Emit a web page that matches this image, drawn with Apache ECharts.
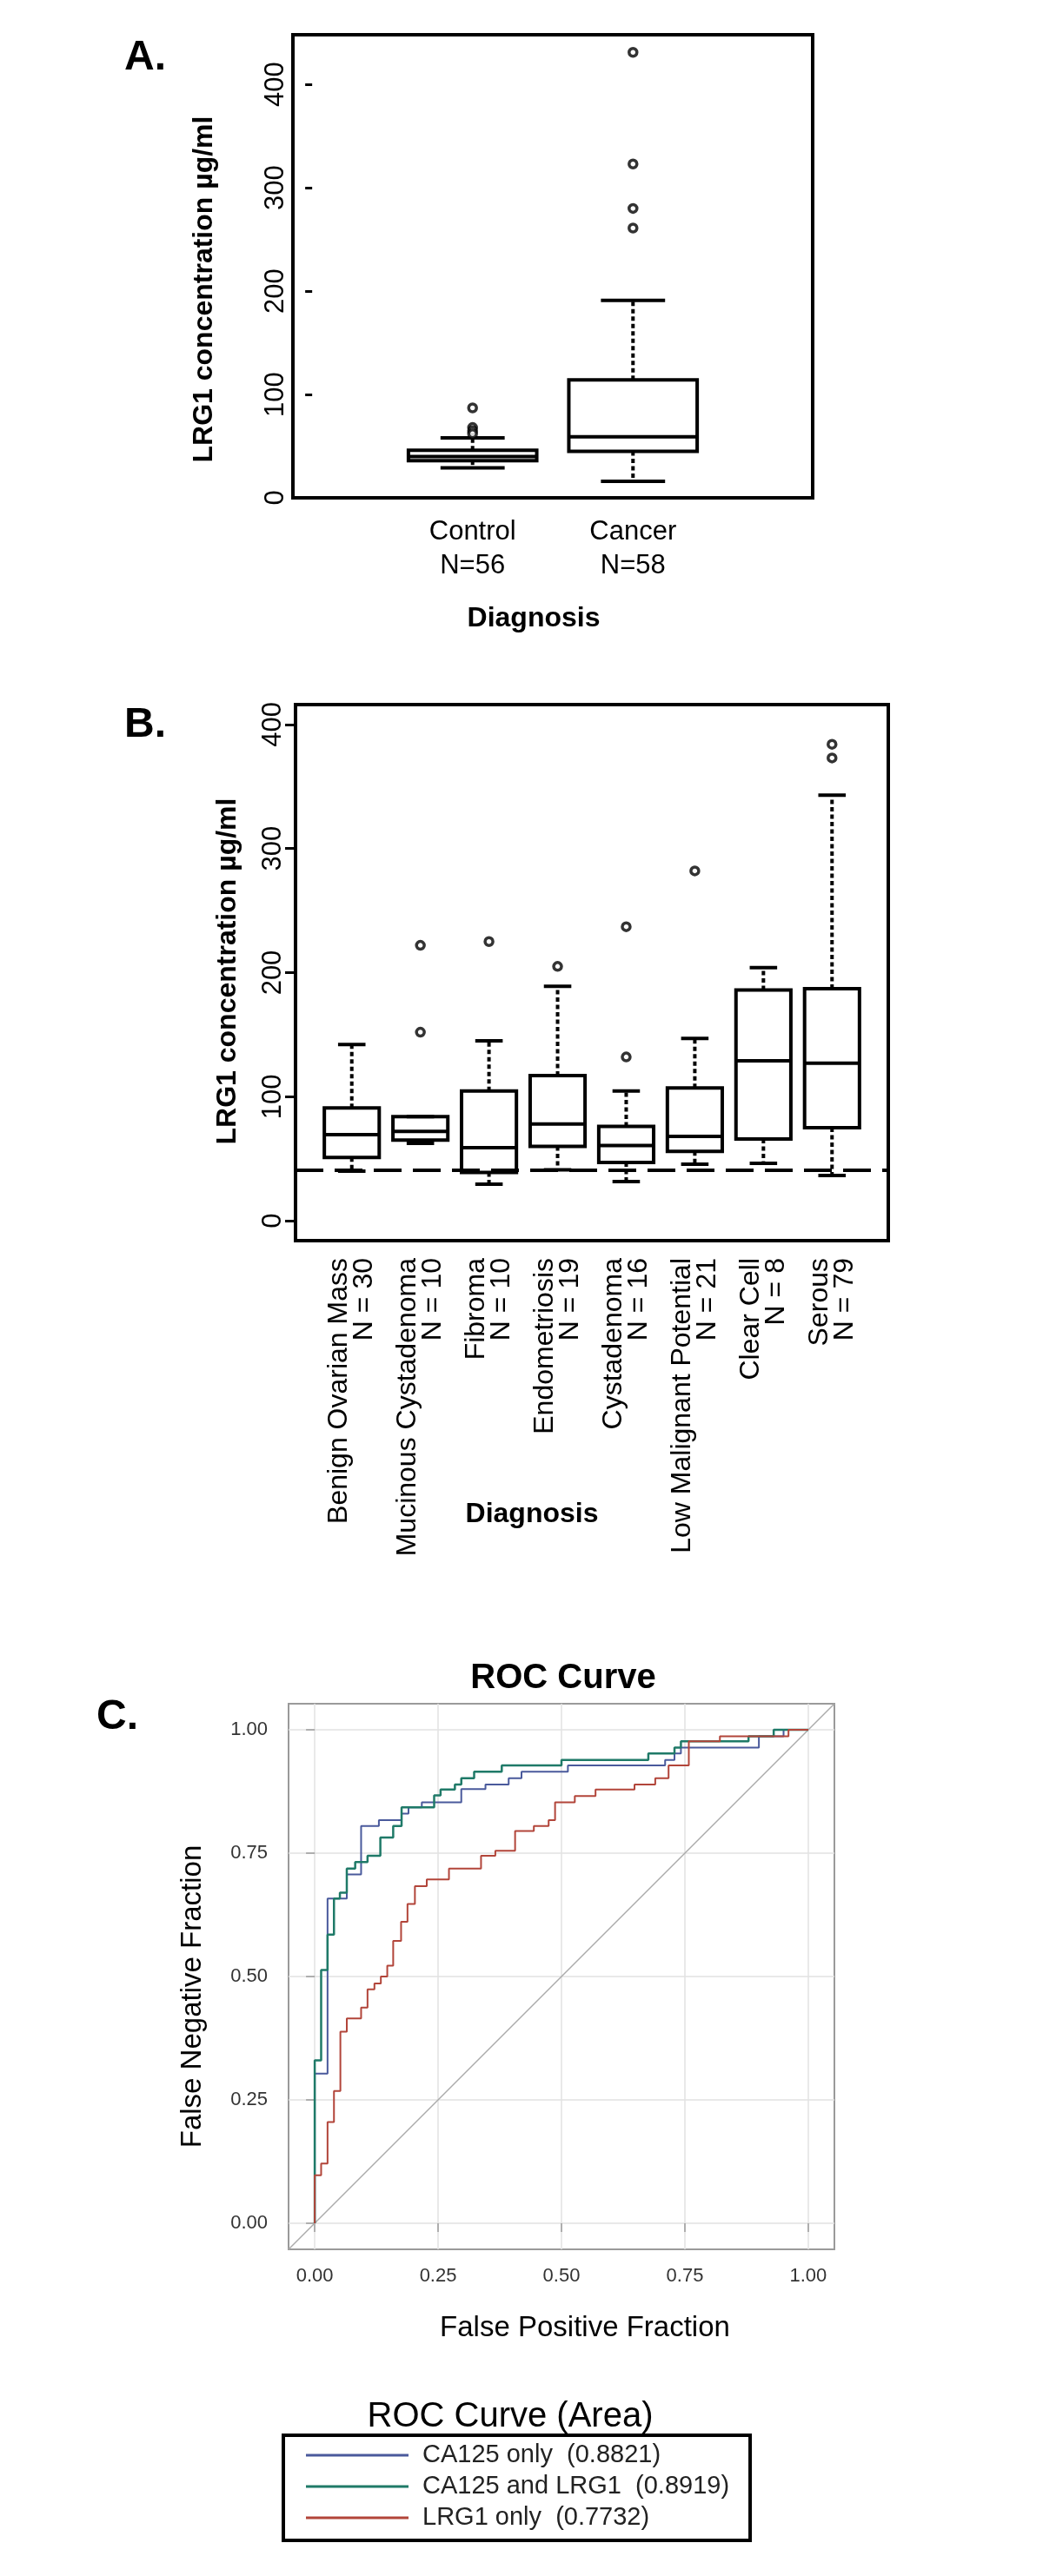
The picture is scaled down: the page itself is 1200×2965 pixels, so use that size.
<!DOCTYPE html>
<html>
<head>
<meta charset="utf-8">
<title>LRG1 concentration and ROC</title>
<script src="https://cdn.jsdelivr.net/npm/echarts@6/dist/echarts.min.js"></script>
<style>
  html, body { margin: 0; padding: 0; background: #fff; }
  #fig { width: 1200px; height: 2965px; }
</style>
</head>
<body>
<div id="fig"></div>
<script>
// ---- panel A: control vs cancer
var groupsA = ['Control', 'Cancer'];
var countsA = ['N=56', 'N=58'];
var lowA = [29, 16];
var q1A = [36, 45];
var medA = [40, 59];
var q3A = [46, 114];
var highA = [58, 191];
var outliersA = [[1, 87], [1, 68], [1, 65], [1, 62], [2, 261], [2, 280], [2, 323], [2, 431]];

// ---- panel B: by diagnosis
var groupsB = ['Benign Ovarian Mass', 'Mucinous Cystadenoma', 'Fibroma', 'Endometriosis',
  'Cystadenoma', 'Low Malignant Potential', 'Clear Cell', 'Serous'];
var countsB = [30, 10, 10, 19, 16, 21, 8, 79];
var lowB = [40, 62.5, 29.5, 41, 31.6, 45.6, 46.3, 36.5];
var q1B = [51, 65, 39, 60, 47, 56, 66, 75];
var medB = [69.5, 72, 59, 78, 60.6, 68, 129, 127];
var q3B = [91, 84, 104.6, 117, 76, 107, 186, 187];
var highB = [142, 84, 145, 189, 104.6, 147, 204, 343];
var outliersB = [[2, 222], [2, 152], [3, 225], [4, 205], [5, 237], [5, 132], [6, 282], [8, 384], [8, 373]];
var cutoffB = 41;

// ---- panel C: ROC curves, [false positive fraction, true fraction] at each step
var rocNames = ['CA125 only', 'CA125 and LRG1', 'LRG1 only'];
var rocAreas = [0.8821, 0.8919, 0.7732];
var rocColors = ['#4a5a9c', '#1f7a68', '#b2453a'];
var rocCA125 = [[0, 0], [0, 0.303], [0.026, 0.658], [0.065, 0.707], [0.094, 0.805], [0.130, 0.817],
  [0.176, 0.830], [0.190, 0.843], [0.217, 0.853], [0.297, 0.880], [0.346, 0.889], [0.393, 0.902],
  [0.419, 0.915], [0.513, 0.928], [0.710, 0.939], [0.729, 0.952], [0.742, 0.964], [0.900, 0.987],
  [0.950, 1.0], [1.0, 1.0]];
var rocBoth = [[0, 0], [0, 0.330], [0.013, 0.513], [0.026, 0.585], [0.039, 0.658], [0.051, 0.670],
  [0.065, 0.719], [0.082, 0.732], [0.107, 0.745], [0.133, 0.782], [0.159, 0.805], [0.176, 0.843],
  [0.242, 0.867], [0.255, 0.879], [0.284, 0.889], [0.297, 0.902], [0.323, 0.915], [0.379, 0.928],
  [0.500, 0.939], [0.676, 0.952], [0.729, 0.964], [0.742, 0.977], [0.879, 0.987], [0.930, 1.0],
  [1.0, 1.0]];
var rocLRG1 = [[0, 0], [0, 0.097], [0.013, 0.121], [0.026, 0.205], [0.039, 0.268], [0.052, 0.388],
  [0.065, 0.415], [0.094, 0.437], [0.107, 0.474], [0.121, 0.486], [0.134, 0.500], [0.147, 0.522],
  [0.159, 0.572], [0.175, 0.611], [0.188, 0.647], [0.203, 0.683], [0.227, 0.697], [0.272, 0.719],
  [0.337, 0.745], [0.366, 0.755], [0.406, 0.795], [0.444, 0.805], [0.474, 0.817], [0.487, 0.853],
  [0.527, 0.866], [0.569, 0.879], [0.648, 0.889], [0.690, 0.902], [0.717, 0.928], [0.758, 0.977],
  [0.821, 0.987], [0.960, 1.0], [1.0, 1.0]];
var fracTicks = [0, 0.25, 0.5, 0.75, 1];

var FONT = 'Liberation Sans, Arial, sans-serif';

function boxRows(low, q1, med, q3, high) {
  return low.map(function (v, i) { return [i + 1, v, q1[i], med[i], q3[i], high[i]]; });
}

// box, median, dotted whiskers and staples, drawn through the axis scales
function renderBox(params, api) {
  var x = api.value(0);
  var lo = api.coord([x, api.value(1)]);
  var b1 = api.coord([x, api.value(2)]);
  var md = api.coord([x, api.value(3)]);
  var b3 = api.coord([x, api.value(4)]);
  var hi = api.coord([x, api.value(5)]);
  var half = api.size([0.8, 0])[0] / 2;
  var cap = half / 2;
  var cx = lo[0];
  var solid = { stroke: '#000', lineWidth: 4, fill: 'none' };
  var dotted = { stroke: '#000', lineWidth: 4, lineDash: [5, 3.5], fill: 'none' };
  return {
    type: 'group',
    children: [
      { type: 'line', shape: { x1: cx, y1: b3[1], x2: cx, y2: hi[1] }, style: dotted },
      { type: 'line', shape: { x1: cx, y1: b1[1], x2: cx, y2: lo[1] }, style: dotted },
      { type: 'line', shape: { x1: cx - cap, y1: hi[1], x2: cx + cap, y2: hi[1] }, style: solid },
      { type: 'line', shape: { x1: cx - cap, y1: lo[1], x2: cx + cap, y2: lo[1] }, style: solid },
      { type: 'rect', shape: { x: cx - half, y: b3[1], width: 2 * half, height: b1[1] - b3[1] }, style: solid },
      { type: 'line', shape: { x1: cx - half, y1: md[1], x2: cx + half, y2: md[1] }, style: solid }
    ]
  };
}

function concAxis(gi, min, max, margin, tickLen) {
  return {
    gridIndex: gi, type: 'value', min: min, max: max,
    axisLine: { show: false },
    axisTick: { show: true, length: tickLen, customValues: [0, 100, 200, 300, 400], lineStyle: { color: '#000', width: 3 } },
    axisLabel: { customValues: [0, 100, 200, 300, 400], rotate: 90, margin: margin, fontSize: 31, color: '#000', fontFamily: FONT },
    splitLine: { show: false }
  };
}

function fracAxis(isX) {
  return {
    gridIndex: 2, type: 'value', min: -0.053, max: 1.053,
    axisLine: { show: false },
    axisTick: { show: true, length: 10, customValues: fracTicks, lineStyle: { color: '#9a9a9a', width: 1.5 } },
    axisLabel: {
      customValues: fracTicks, margin: isX ? 20 : 24, fontSize: 22, color: '#333', fontFamily: FONT,
      formatter: function (v) { return v.toFixed(2); }
    },
    splitLine: { show: true, lineStyle: { color: '#e2e2e2', width: 1.5 } }
  };
}

function panelText(text, x, y, font, rot) {
  return {
    type: 'text', x: x, y: y, rotation: rot || 0,
    style: { text: text, font: font, fill: '#000', align: 'center', verticalAlign: 'middle' }
  };
}

var chart = echarts.init(document.getElementById('fig'), null, { renderer: 'canvas' });

var option = {
  animation: false,
  backgroundColor: '#fff',
  grid: [
    { left: 337, top: 40, width: 598, height: 533, show: true, borderColor: '#000', borderWidth: 4, outerBoundsMode: 'none' },
    { left: 340, top: 811, width: 682, height: 617, show: true, borderColor: '#000', borderWidth: 4, outerBoundsMode: 'none' },
    { left: 332, top: 1961, width: 628, height: 628, show: true, borderColor: '#9a9a9a', borderWidth: 2, outerBoundsMode: 'none' }
  ],
  xAxis: [
    {
      gridIndex: 0, type: 'value', min: -0.12, max: 3.12,
      axisLine: { show: false }, axisTick: { show: false }, splitLine: { show: false },
      axisLabel: {
        customValues: [1, 2], margin: 20, fontSize: 31, lineHeight: 39, color: '#000', fontFamily: FONT,
        formatter: function (v) { return groupsA[v - 1] + '\n' + countsA[v - 1]; }
      }
    },
    {
      gridIndex: 1, type: 'value', min: 0.18, max: 8.82,
      axisLine: { show: false }, axisTick: { show: false }, splitLine: { show: false },
      axisLabel: {
        customValues: [1, 2, 3, 4, 5, 6, 7, 8], rotate: 90, margin: 20, fontSize: 32, lineHeight: 29,
        color: '#000', fontFamily: FONT,
        formatter: function (v) { return groupsB[v - 1] + '\n' + 'N = ' + countsB[v - 1]; }
      }
    },
    fracAxis(true)
  ],
  yAxis: [
    concAxis(0, 0, 448, 4, 8),
    concAxis(1, -16, 416, 10, 12),
    fracAxis(false)
  ],
  legend: {
    orient: 'vertical', left: 326, top: 2803,
    padding: [8, 24, 11, 26],
    borderColor: '#000', borderWidth: 4,
    icon: 'rect', itemWidth: 118, itemHeight: 3, itemGap: 6,
    data: rocNames.map(function (n, i) { return n + '  (' + rocAreas[i].toFixed(4) + ')'; }),
    textStyle: { fontSize: 29, lineHeight: 30, color: '#222', fontFamily: FONT, padding: [0, 0, 0, 11] }
  },
  graphic: [
    panelText('A.', 167, 67, 'bold 48px ' + FONT),
    panelText('B.', 167, 835, 'bold 48px ' + FONT),
    panelText('C.', 135, 1977, 'bold 48px ' + FONT),
    panelText('LRG1 concentration \u00b5g/ml', 235, 333, 'bold 32px ' + FONT, Math.PI / 2),
    panelText('LRG1 concentration \u00b5g/ml', 262, 1118, 'bold 32px ' + FONT, Math.PI / 2),
    panelText('Diagnosis', 614, 712, 'bold 32px ' + FONT),
    panelText('Diagnosis', 612, 1743, 'bold 32px ' + FONT),
    panelText('ROC Curve', 648, 1932, 'bold 40px ' + FONT),
    panelText('False Negative Fraction', 222, 2298, '33px ' + FONT, Math.PI / 2),
    panelText('False Positive Fraction', 673, 2680, '33px ' + FONT),
    panelText('ROC Curve (Area)', 587, 2782, '40px ' + FONT)
  ],
  series: [
    {
      type: 'custom', xAxisIndex: 0, yAxisIndex: 0, renderItem: renderBox,
      encode: { x: 0, y: [1, 2, 3, 4, 5] }, data: boxRows(lowA, q1A, medA, q3A, highA), z: 3
    },
    {
      type: 'scatter', xAxisIndex: 0, yAxisIndex: 0, data: outliersA, symbol: 'circle', symbolSize: 9,
      itemStyle: { color: '#fff', borderColor: '#000', borderWidth: 3.5 }, z: 4
    },
    {
      type: 'custom', xAxisIndex: 1, yAxisIndex: 1, renderItem: renderBox,
      encode: { x: 0, y: [1, 2, 3, 4, 5] }, data: boxRows(lowB, q1B, medB, q3B, highB), z: 3
    },
    {
      type: 'scatter', xAxisIndex: 1, yAxisIndex: 1, data: outliersB, symbol: 'circle', symbolSize: 9,
      itemStyle: { color: '#fff', borderColor: '#000', borderWidth: 3.5 }, z: 4,
      markLine: {
        silent: true, symbol: ['none', 'none'], label: { show: false },
        lineStyle: { color: '#000', width: 4, type: [32, 13] },
        data: [{ yAxis: cutoffB }]
      }
    },
    {
      type: 'line', xAxisIndex: 2, yAxisIndex: 2, silent: true, symbol: 'none',
      data: [[-0.053, -0.053], [1.053, 1.053]], lineStyle: { color: '#aaaaaa', width: 1.5 }, z: 1
    },
    {
      name: rocNames[0] + '  (' + rocAreas[0].toFixed(4) + ')', type: 'line', xAxisIndex: 2, yAxisIndex: 2,
      step: 'end', symbol: 'none', data: rocCA125, color: rocColors[0], lineStyle: { width: 2 }, z: 2
    },
    {
      name: rocNames[1] + '  (' + rocAreas[1].toFixed(4) + ')', type: 'line', xAxisIndex: 2, yAxisIndex: 2,
      step: 'end', symbol: 'none', data: rocBoth, color: rocColors[1], lineStyle: { width: 2.5 }, z: 3
    },
    {
      name: rocNames[2] + '  (' + rocAreas[2].toFixed(4) + ')', type: 'line', xAxisIndex: 2, yAxisIndex: 2,
      step: 'end', symbol: 'none', data: rocLRG1, color: rocColors[2], lineStyle: { width: 2 }, z: 4
    }
  ]
};

chart.setOption(option);
</script>
</body>
</html>
